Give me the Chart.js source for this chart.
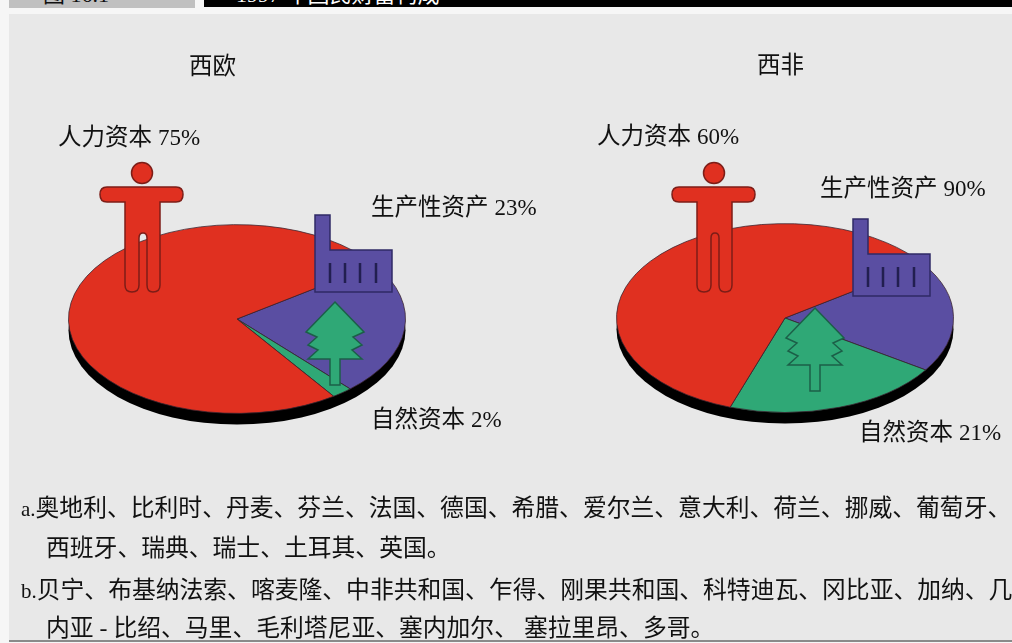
<!DOCTYPE html>
<html>
<head>
<meta charset="utf-8">
<script src="https://cdn.jsdelivr.net/npm/chart.js@4"></script>
<style>
  html, body { margin: 0; padding: 0; background: #f6f6f6; }
  body { position: relative; width: 1012px; height: 643px; overflow: hidden;
         font-family: "Liberation Serif", "Noto Sans CJK SC", serif; color: #111; }
  #panel { position: absolute; left: 9px; top: 14px; width: 1003px; height: 626px; background: #e8e8e8; border-bottom: 2px solid #8a8a8a; }
  #tabLeft { position: absolute; left: 9px; top: -1px; width: 186px; height: 9px; background: #c0c0c0; overflow: hidden; }
  #tabRight { position: absolute; left: 204px; top: -1px; width: 808px; height: 8px; background: #000; overflow: hidden; }
  #tabLeft span, #tabRight span { position: absolute; white-space: nowrap; font-size: 22px; line-height: 22px; top: -15px; }
  #tabLeft span { left: 34px; color: #111; }
  #tabRight span { left: 32px; color: #fff; }
  canvas { position: absolute; }
  #chartLeft { left: 56px; top: 139px; }
  #chartRight { left: 604px; top: 138px; }
  #icons { position: absolute; left: 0; top: 0; }
  .label { position: absolute; white-space: nowrap; font-size: 23.5px; line-height: 28px; }
  .label b { font-weight: normal; font-size: 23px; }
  .note { position: absolute; white-space: nowrap; font-size: 23.8px; line-height: 28px; }
  .note i { font-style: normal; font-size: 21px; }
</style>
</head>
<body>
<div id="panel"></div>
<div id="tabLeft"><span id="figNo"></span></div>
<div id="tabRight"><span id="figTitle"></span></div>

<canvas id="chartLeft" width="362" height="360"></canvas>
<canvas id="chartRight" width="362" height="360"></canvas>

<svg id="icons" width="1012" height="643">
  <defs>
    <g id="person">
      <circle cx="142" cy="173" r="10.5" />
      <path d="M107 187 H176 Q183 187 183 194.5 Q183 202 176 202 H160 V285 Q160 292 153 292 Q147 292 147 285 V238 Q147 233 143 233 Q139 233 139 238 V285 Q139 292 132 292 Q125 292 125 285 V202 H107 Q100 202 100 194.5 Q100 187 107 187 Z" />
    </g>
    <g id="factory">
      <path d="M315 215 H330 V250 H392 V292 H315 Z" fill="#5a4ea2" stroke="#2f2a66" stroke-width="1.5" />
      <path d="M330 263 V283 M345 263 V283 M360 263 V283 M376 263 V283" fill="none" stroke="#221f50" stroke-width="2.5" />
    </g>
    <path id="tree" d="M335 302 L364 332 L353 337 L362 345 L352 350 L362 359 L340 359 L340 385 L330 385 L330 359 L308 359 L318 350 L308 345 L317 337 L306 332 Z" fill="#2fa876" stroke="#1c5f48" stroke-width="1.5" />
  </defs>
  <use href="#person" fill="#e03020" stroke="#7d1d17" stroke-width="1.5" />
  <use href="#factory" />
  <use href="#tree" />
  <use href="#person" x="572" fill="#e03020" stroke="#7d1d17" stroke-width="1.5" />
  <use href="#factory" x="538" y="4" />
  <use href="#tree" x="480" y="6" />
</svg>

<div class="label" id="titleLeft" style="left:189px;top:52px"></div>
<div class="label" id="titleRight" style="left:757px;top:51px"></div>
<div class="label" id="labelLeft2" style="left:58px;top:123px"></div>
<div class="label" id="labelLeft0" style="left:371px;top:193px"></div>
<div class="label" id="labelLeft1" style="left:371px;top:405px"></div>
<div class="label" id="labelRight2" style="left:597px;top:122px"></div>
<div class="label" id="labelRight0" style="left:820px;top:174px"></div>
<div class="label" id="labelRight1" style="left:859px;top:418px"></div>

<div class="note" id="note0" style="left:21px;top:494px"></div>
<div class="note" id="note1" style="left:46px;top:534px"></div>
<div class="note" id="note2" style="left:21px;top:576px"></div>
<div class="note" id="note3" style="left:46px;top:614px"></div>

<script>
const figNo = "图 16.1";
const figTitle = "1997 年国民财富构成";
const regions = ["西欧", "西非"];
const assetNames = ["生产性资产", "自然资本", "人力资本"];
const sliceColors = ["#5a4ea2", "#2fa876", "#e03020"];

const westEuropeValues = [23, 2, 75];
// the 90% printed for 西非 doesn't add up, the slice itself reads about 19
const westAfricaValues = [19, 21, 60];
const westAfricaPrinted = [90, 21, 60];

const notes = [
  "a.奥地利、比利时、丹麦、芬兰、法国、德国、希腊、爱尔兰、意大利、荷兰、挪威、葡萄牙、",
  "西班牙、瑞典、瑞士、土耳其、英国。",
  "b.贝宁、布基纳法索、喀麦隆、中非共和国、乍得、刚果共和国、科特迪瓦、冈比亚、加纳、几",
  "内亚 - 比绍、马里、毛利塔尼亚、塞内加尔、 塞拉里昂、多哥。"
];

const setText = (id, text) => { document.getElementById(id).innerHTML = text; };

setText("figNo", figNo);
setText("figTitle", figTitle);
setText("titleLeft", regions[0]);
setText("titleRight", regions[1]);
assetNames.forEach((name, i) => {
  setText("labelLeft" + i, `${name} <b>${westEuropeValues[i]}%</b>`);
  setText("labelRight" + i, `${name} <b>${westAfricaPrinted[i]}%</b>`);
});
notes.forEach((line, i) => {
  setText("note" + i, line.replace(/^([ab]\.)/, "<i>$1</i>"));
});

// tilts the pie into an ellipse and puts a black rim below it
const tiltPlugin = {
  id: "tilt",
  beforeDatasetsDraw(chart) {
    const arc = chart.getDatasetMeta(0).data[0];
    const ctx = chart.ctx;
    const squash = 0.56;
    const depth = 20;
    ctx.save();
    ctx.translate(arc.x, arc.y);
    ctx.scale(1, squash);
    ctx.translate(-arc.x, -arc.y);
    ctx.beginPath();
    ctx.arc(arc.x, arc.y + depth, arc.outerRadius, 0, Math.PI * 2);
    ctx.fillStyle = "#000";
    ctx.fill();
  },
  afterDatasetsDraw(chart) {
    chart.ctx.restore();
  }
};

const createPie = (canvasID, values) => {
  return new Chart(document.getElementById(canvasID), {
    type: "pie",
    data: {
      labels: assetNames,
      datasets: [{
        data: values,
        backgroundColor: sliceColors,
        borderColor: "#3a2430",
        borderWidth: 1,
        clip: false
      }]
    },
    options: {
      responsive: false,
      animation: false,
      rotation: 55,
      layout: { padding: 11 },
      plugins: { legend: { display: false }, tooltip: { enabled: false } }
    },
    plugins: [tiltPlugin]
  });
};

createPie("chartLeft", westEuropeValues);
createPie("chartRight", westAfricaValues);
</script>
</body>
</html>
